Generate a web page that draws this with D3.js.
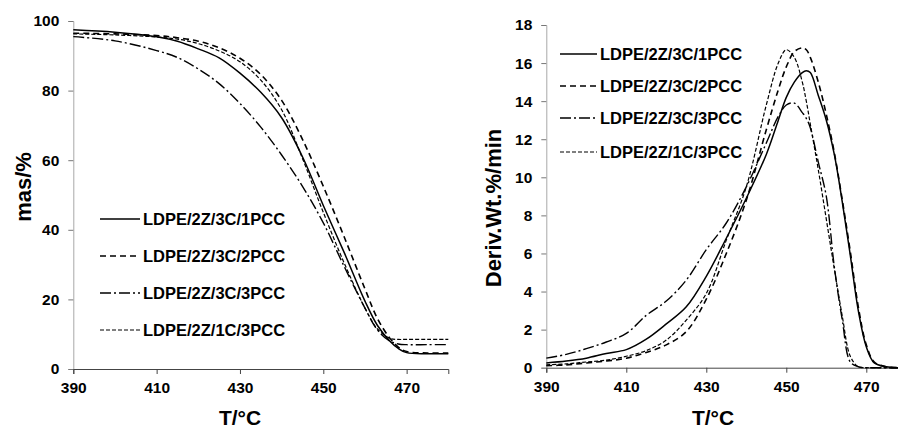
<!DOCTYPE html>
<html>
<head>
<meta charset="utf-8">
<script src="https://cdn.jsdelivr.net/npm/d3@7"></script>
<style>
  body { margin: 0; background: #fff; }
  svg { display: block; font-family: "Liberation Sans", Arial, sans-serif; font-weight: bold; }
  .ttl { font-size: 21px; font-weight: bold; }
  .leg { font-size: 16.5px; font-weight: bold; }
</style>
</head>
<body>
<svg id="chart" width="898" height="428"></svg>
<script>
// series names and line styles
var names = ["LDPE/2Z/3C/1PCC", "LDPE/2Z/3C/2PCC", "LDPE/2Z/3C/3PCC", "LDPE/2Z/1C/3PCC"];
var dashes = [null, "6,4", "11,3,2,3", "4,2"];
var widths = [1.5, 1.6, 1.4, 1.2];

// TG curves (left)
var tgTemp = [390, 400, 410, 415, 420, 425, 430, 435, 440, 445, 450, 455, 460, 463, 466, 468, 470, 475, 480];
var tg1 = [97.5, 96.8, 95.5, 94.2, 92, 89.4, 85, 79.5, 72.2, 61, 47, 33.5, 19.5, 12.5, 8, 5.9, 4.7, 4.4, 4.4];
var tg2 = [96.5, 96.3, 95.8, 95.2, 94.2, 92.3, 89.3, 84.6, 77.2, 66, 52.5, 38, 23, 14.5, 8.8, 6.3, 5, 4.6, 4.6];
var tg3 = [95.5, 94.3, 91.5, 89.5, 86.2, 82, 76.3, 69.5, 61.5, 52.5, 42, 29.5, 17.5, 11.2, 8, 7.2, 7, 7, 7];
var tg4 = [96.3, 96, 95.4, 94.8, 93.5, 91.4, 88.3, 83, 74.5, 60.5, 45, 30.5, 17.5, 11.5, 8.8, 8.5, 8.5, 8.5, 8.5];

// DTG curves (right)
var dtgTemp = [390, 395, 400, 405, 410, 415, 420, 425, 430, 435, 440, 445, 448, 450, 452, 454, 455, 456, 458, 460, 462, 464, 466, 468, 470, 472, 475, 478];
var dtg1 = [0.25, 0.35, 0.5, 0.75, 0.95, 1.5, 2.3, 3.2, 4.8, 6.8, 8.9, 11.2, 13, 14.2, 15, 15.5, 15.6, 15.5, 14.3, 13, 11.2, 8.7, 5.9, 3, 1.1, 0.25, 0.05, 0];
var dtg2 = [0.1, 0.15, 0.25, 0.35, 0.5, 0.8, 1.2, 1.9, 3.6, 6, 8.8, 12.5, 14.6, 15.8, 16.6, 16.8, 16.7, 16.3, 15, 13.3, 11.3, 8.8, 6.1, 3.2, 1.2, 0.3, 0.05, 0];
var dtg3 = [0.5, 0.7, 1.0, 1.35, 1.8, 2.75, 3.5, 4.6, 6.2, 7.6, 9.5, 11.8, 13.2, 13.8, 13.9, 13.4, 13.1, 12.6, 10.8, 9, 5.3, 2.5, 0.3, 0.05, 0, 0, 0, 0];
var dtg4 = [0.15, 0.2, 0.3, 0.4, 0.6, 0.9, 1.45, 2.5, 3.9, 6.7, 9.5, 13.8, 16, 16.7, 16.3, 15, 14, 12.8, 10.4, 7.8, 5.2, 2.7, 0.6, 0.05, 0, 0, 0, 0];

var xTicks = [390, 410, 430, 450, 470];
var tgTicks = [0, 20, 40, 60, 80, 100];
var dtgTicks = [0, 2, 4, 6, 8, 10, 12, 14, 16, 18];

var svg = d3.select("#chart");

function styleTicks(ax) {
  ax.attr("font-family", null).attr("font-size", null);
  ax.selectAll(".tick text")
    .attr("fill", "#000")
    .attr("font-weight", "bold")
    .style("font-family", "'Liberation Sans', Arial, sans-serif")
    .style("font-weight", "bold")
    .style("font-size", "15.5px");
}

function panel(opt) {
  var x = d3.scaleLinear().domain(opt.xDomain).range(opt.xRange);
  var y = d3.scaleLinear().domain(opt.yDomain).range(opt.yRange);
  var g = svg.append("g");

  var line = d3.line()
    .x(function(d){ return x(d[0]); })
    .y(function(d){ return y(Math.max(0, d[1])); })
    .curve(d3.curveCatmullRom.alpha(0.5));

  // y axis
  var ya = g.append("g")
    .attr("transform", "translate(" + opt.xRange[0] + ",0)")
    .call(d3.axisLeft(y).tickValues(opt.yTicks).tickSize(5).tickPadding(9).tickFormat(d3.format("d")));
  ya.select(".domain").attr("stroke", "#a8a8a8");
  ya.selectAll(".tick line").attr("stroke", "#777");
  styleTicks(ya);

  // x axis
  var xa = g.append("g")
    .attr("transform", "translate(0," + opt.yRange[0] + ")")
    .call(d3.axisBottom(x).tickValues(xTicks).tickSize(5).tickPadding(8).tickFormat(d3.format("d")));
  xa.select(".domain").attr("stroke", "#444");
  xa.selectAll(".tick line").attr("stroke", "#444");
  styleTicks(xa);

  opt.series.forEach(function(vals, i){
    var pts = opt.temp.map(function(t, k){ return [t, vals[k]]; });
    g.append("path")
      .datum(pts)
      .attr("d", line)
      .attr("fill", "none")
      .attr("stroke", "#000")
      .attr("stroke-width", widths[i])
      .attr("stroke-dasharray", dashes[i]);
  });

  // legend
  opt.legY.forEach(function(ly, i){
    g.append("line")
      .attr("x1", opt.legX[0]).attr("x2", opt.legX[1])
      .attr("y1", ly).attr("y2", ly)
      .attr("stroke", "#000")
      .attr("stroke-width", widths[i])
      .attr("stroke-dasharray", dashes[i]);
    g.append("text")
      .attr("class", "leg")
      .attr("x", opt.legX[1] + 3)
      .attr("y", ly + 6)
      .text(names[i]);
  });

  g.append("text")
    .attr("class", "ttl")
    .attr("text-anchor", "middle")
    .attr("x", opt.xTitle[0]).attr("y", opt.xTitle[1])
    .text("T/°C");

  g.append("text")
    .attr("class", "ttl")
    .attr("text-anchor", "middle")
    .attr("transform", "translate(" + opt.yTitle[0] + "," + opt.yTitle[1] + ") rotate(-90)")
    .style("font-size", opt.yTitleSize)
    .text(opt.yLabel);
}

panel({
  xDomain: [390, 480], xRange: [73.3, 448.3],
  yDomain: [0, 100], yRange: [369, 21],
  yTicks: tgTicks,
  temp: tgTemp, series: [tg1, tg2, tg3, tg4],
  legX: [100, 140], legY: [219, 256, 293, 330],
  xTitle: [240, 425], yTitle: [31, 187], yTitleSize: "22px",
  yLabel: "mas/%"
});

panel({
  xDomain: [390, 478], xRange: [546.3, 898.3],
  yDomain: [0, 18], yRange: [367.7, 25],
  yTicks: dtgTicks,
  temp: dtgTemp, series: [dtg1, dtg2, dtg3, dtg4],
  legX: [560, 597], legY: [54, 86, 118, 152],
  xTitle: [713, 425], yTitle: [501, 208], yTitleSize: "22px",
  yLabel: "Deriv.Wt.%/min"
});
</script>
</body>
</html>
